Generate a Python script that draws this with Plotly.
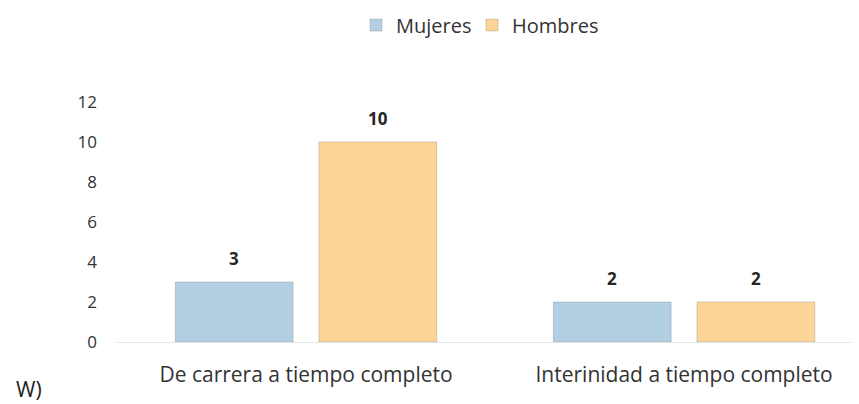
import plotly.graph_objects as go

categories = ["De carrera a tiempo completo", "Interinidad a tiempo completo"]
mujeres = [3, 2]
hombres = [10, 2]
y_ticks = [0, 2, 4, 6, 8, 10, 12]

FONT = "Open Sans"
colors = {"Mujeres": "#B2D0E1", "Hombres": "#FDD597"}

# page body adds 8px offset, so the figure is sized 8px smaller than the window
W, H = 851, 396
L, T, B = 109, 94, 62
PW, PH = 741, 240

fig = go.Figure()
for name, vals, leg in [("Mujeres", mujeres, "legend"), ("Hombres", hombres, "legend2")]:
    fig.add_trace(go.Bar(
        x=categories, y=vals, name=name, legend=leg,
        marker=dict(color=colors[name], line=dict(color="rgba(120,120,120,0.3)", width=1)),
        offsetgroup=name,
    ))

# value labels above the bars
for i, (name, vals) in enumerate([("Mujeres", mujeres), ("Hombres", hombres)]):
    for cat, v in zip(categories, vals):
        fig.add_annotation(
            x=cat, y=v, text=f"<b>{v}</b>", showarrow=False,
            xshift=(-72 if i == 0 else 72), yshift=24,
            font=dict(family=FONT, size=17, color="#262626"),
        )

fig.add_annotation(
    x=(6 - L) / PW, y=-(381 - (T + PH)) / PH, xref="paper", yref="paper",
    xanchor="left", yanchor="middle",
    text="W)", showarrow=False, font=dict(family=FONT, size=21, color="#222"),
)

legend_style = dict(orientation="h", xanchor="left", xref="container",
                    y=1 - 17 / H, yanchor="middle", yref="container",
                    bgcolor="rgba(0,0,0,0)",
                    font=dict(size=20, color="#333"), itemwidth=30)

fig.update_layout(
    width=W, height=H,
    barmode="group", bargap=0.24, bargroupgap=0.18,
    plot_bgcolor="white", paper_bgcolor="white",
    font=dict(family=FONT, color="#404040"),
    margin=dict(l=L, r=W - L - PW, t=T, b=B, autoexpand=False),
    showlegend=True,
    legend=dict(x=348 / W, **legend_style),
    legend2=dict(x=464 / W, **legend_style),
    xaxis=dict(range=[-0.5, 1.46], showline=True, linecolor="#E3E6E8", linewidth=1,
               ticks="", tickfont=dict(size=21, color="#333"), showgrid=False,
               ticklabelstandoff=14, automargin=False),
    yaxis=dict(range=[0, 12], tickvals=y_ticks, showgrid=False, zeroline=False,
               showline=False, ticklabelstandoff=19, tickfont=dict(size=17, color="#333"),
               automargin=False),
)

fig.write_html("out.html")
